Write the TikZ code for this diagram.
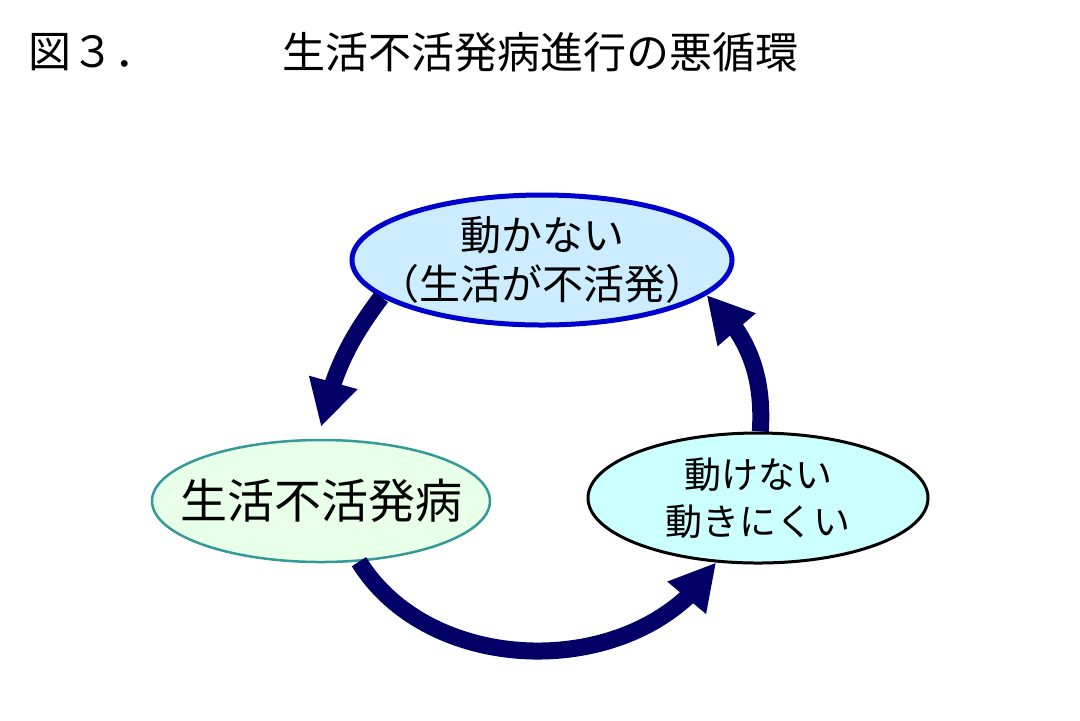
\documentclass[tikz,border=0pt]{standalone}
\usepackage{fontspec}
\newfontfamily\jpfont{Noto Sans CJK JP}
\usepackage{tikz}
\usetikzlibrary{positioning, arrows.meta, shapes.geometric, bending}

\definecolor{navyarr}{HTML}{000066}
\definecolor{topfill}{HTML}{CCECFF}
\definecolor{topline}{HTML}{0000CC}
\definecolor{leftfill}{HTML}{E8FFE8}
\definecolor{leftline}{HTML}{339999}
\definecolor{rightfill}{HTML}{CCFFFF}

\begin{document}
\begin{tikzpicture}[
  x=0.5pt, y=-0.5pt,
  font=\jpfont,
  %% negative sep so that the minimum size alone fixes the ellipse
  oval/.style={ellipse, inner xsep=-120pt, inner ysep=-60pt, align=center},
  ttl/.style={inner sep=0pt, font=\jpfont\fontsize{21.5}{25}\selectfont},
  cyc/.style={-{Triangle[length=23pt, width=23.5pt]}, draw=navyarr,
              line width=8.5pt},
]
%% page is 1080 x 720 px, one px = 0.5pt, y runs downward
\fill[white] (0,0) rectangle (1080,720);

%% ---- title line ----
\node[ttl, anchor=west] (fig) at (28,52) {図３．};
\node[ttl] (title) at (540,52) {生活不活発病進行の悪循環};

%% ---- the three states ----
\node[oval, fill=topfill, draw=topline, line width=2.5pt,
      minimum width=190pt, minimum height=65pt,
      font=\jpfont\fontsize{20.5}{24.5}\selectfont] (top) at (542,260)
  {動かない\\（生活が不活発）};
\node[oval, fill=leftfill, draw=leftline, line width=1.25pt,
      minimum width=169pt, minimum height=61pt,
      font=\jpfont\fontsize{23.5}{28}\selectfont] (left) at (321,501)
  {生活不活発病};
\node[oval, fill=rightfill, draw=black, line width=1.5pt,
      minimum width=170pt, minimum height=65pt,
      font=\jpfont\fontsize{18.5}{23.5}\selectfont] (right) at (758,498)
  {動けない\\動きにくい};

%% ---- the cycle ----
\draw[cyc] (top.193) to[bend right=12] ([yshift=6pt]left.90);
\draw[cyc] (left.-58) to[bend right=58] (right.237);
\draw[cyc] (right.88) to[bend right=25] (top.-12);
\end{tikzpicture}
\end{document}
